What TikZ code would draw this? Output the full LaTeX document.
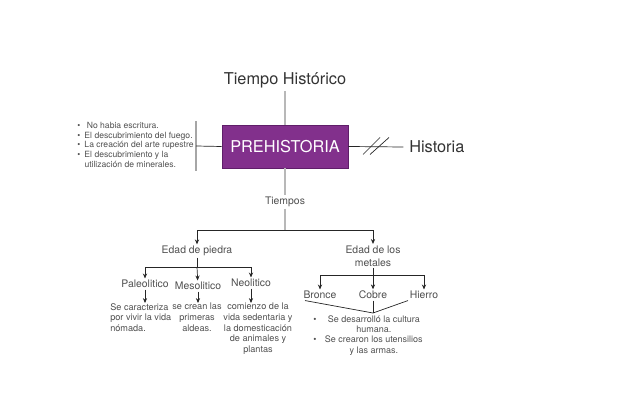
\documentclass[tikz,border=0pt]{standalone}
\usepackage{fontspec}
\setmainfont{TeX Gyre Heros}
\usepackage{tikz}
\usetikzlibrary{arrows.meta, positioning, shapes}
\definecolor{prepurple}{RGB}{130, 48, 140}
\definecolor{preborde}{RGB}{95, 30, 105}
\definecolor{txtgray}{RGB}{80, 80, 80}

\begin{document}
\begin{tikzpicture}[
    x=0.025cm, y=-0.025cm,
    grande/.style={font=\fontsize{11.6}{14}\selectfont, text=black!80, inner sep=2pt},
    caja/.style={rectangle, fill=prepurple, draw=preborde, minimum width=3.15cm, minimum height=1.08cm, text=white, font=\fontsize{11.6}{14}\selectfont},
    etiqueta/.style={font=\fontsize{7.4}{9.2}\selectfont, text=txtgray, align=center, inner sep=1pt},
    nota/.style={font=\fontsize{6.5}{7.5}\selectfont, text=txtgray, inner sep=0pt},
    tronco/.style={draw=black!28, line width=1.3pt},
    linea/.style={draw=black!85, line width=0.5pt},
    arrow/.style={-{Stealth[length=3.5pt, width=3pt]}, linea}
]
    \useasboundingbox (0,0) rectangle (640,400);

    % Centro
    \node[grande] (titulo) at (285,80) {Tiempo Histórico};
    \node[caja] (prehist) at (285,146.5) {PREHISTORIA};
    \node[grande, anchor=west, inner sep=0pt] (historia) at (409,147) {Historia};

    % Rasgos a la izquierda
    \node[nota, anchor=west, font=\fontsize{6.1}{7.1}\selectfont] (rasgos) at (77,146) {%
        \begin{tabular}{@{}l@{\hspace{3pt}}l@{}}
        \textbullet & \ No habia escritura.\\
        \textbullet & El descubrimiento del fuego.\\
        \textbullet & La creación del arte rupestre\\
        \textbullet & El descubrimiento y la\\
                    & utilización de minerales.
        \end{tabular}};
    \coordinate (brtop) at (196,121);
    \coordinate (brbot) at (196,171);
    \coordinate (brmid) at (196,146);
    \coordinate (corte) at (376,146.5);

    % Tiempos
    \node[etiqueta] (tiempos) at (285,202) {Tiempos};
    \coordinate (rama1) at (285,230);
    \node[etiqueta] (piedra) at (197,251) {Edad de piedra};
    \node[etiqueta] (metales) at (373,256) {Edad de los\\metales};

    % Edad de piedra
    \coordinate (rama2) at (197,267);
    \node[etiqueta] (paleo) at (145,284) {Paleolitico};
    \node[etiqueta] (meso) at (198,286) {Mesolitico};
    \node[etiqueta] (neo) at (251,283) {Neolitico};
    \node[nota, anchor=north west, align=left] (paleotxt) at (110,303) {Se caracteriza\\por vivir la vida\\nómada.};
    \node[nota, anchor=north, align=center] (mesotxt) at (197,303) {se crean las\\primeras\\aldeas.};
    \node[nota, anchor=north, align=center] (neotxt) at (258,303) {comienzo de la\\vida sedentaria y\\la domesticación\\de animales y\\plantas};

    % Edad de los metales
    \coordinate (rama3) at (373,275.5);
    \node[etiqueta] (bronce) at (320,295) {Bronce};
    \node[etiqueta] (cobre) at (373,295) {Cobre};
    \node[etiqueta] (hierro) at (424,295) {Hierro};
    \coordinate (union) at (373,313);
    \node[nota, anchor=north, font=\fontsize{6.4}{7.3}\selectfont] (logros) at (368,315) {%
        \begin{tabular}{@{}c@{\hspace{6pt}}c@{}}
        \textbullet & Se desarrolló la cultura\\
                    & humana.\\
        \textbullet & Se crearon los utensilios\\
                    & y las armas.
        \end{tabular}};

    % Lineas
    \draw[tronco] (titulo) -- (prehist);
    \draw[tronco] (prehist) -- (tiempos);
    \draw[tronco] (tiempos) -- (rama1);
    \draw[draw=black!35, line width=0.8pt] (brtop) -- (brbot);
    \draw[linea] (prehist.west) -- (brmid);
    \draw[linea] (prehist.east) -- ([xshift=-4pt]historia.west);
    \draw[linea] ([shift={(-13,8)}]corte) -- ([shift={(4,-9)}]corte);
    \draw[linea] ([shift={(-6,8)}]corte) -- ([shift={(13,-9)}]corte);

    % Flechas
    \draw[arrow] (rama1) -| (piedra);
    \draw[arrow] (rama1) -| (metales);
    \draw[linea] (piedra) -- (rama2);
    \draw[arrow] (rama2) -| (paleo);
    \draw[arrow] (rama2) -- (meso);
    \draw[arrow] (rama2) -| (neo);
    \draw[arrow] (paleo) -- (paleo |- paleotxt.north);
    \draw[arrow] (meso) -- (meso |- mesotxt.north);
    \draw[arrow] (neo) -- (neo |- neotxt.north);
    \draw[linea] (metales) -- (rama3);
    \draw[arrow] (rama3) -| (bronce);
    \draw[arrow] (rama3) -- (cobre);
    \draw[arrow] (rama3) -| (hierro);
    \draw[linea] ([shift={(-15,0)}]bronce.south) -- (union);
    \draw[linea] ([shift={(-16,0)}]hierro.south) -- (union);
    \draw[linea] (cobre) -- (union);
\end{tikzpicture}
\end{document}
